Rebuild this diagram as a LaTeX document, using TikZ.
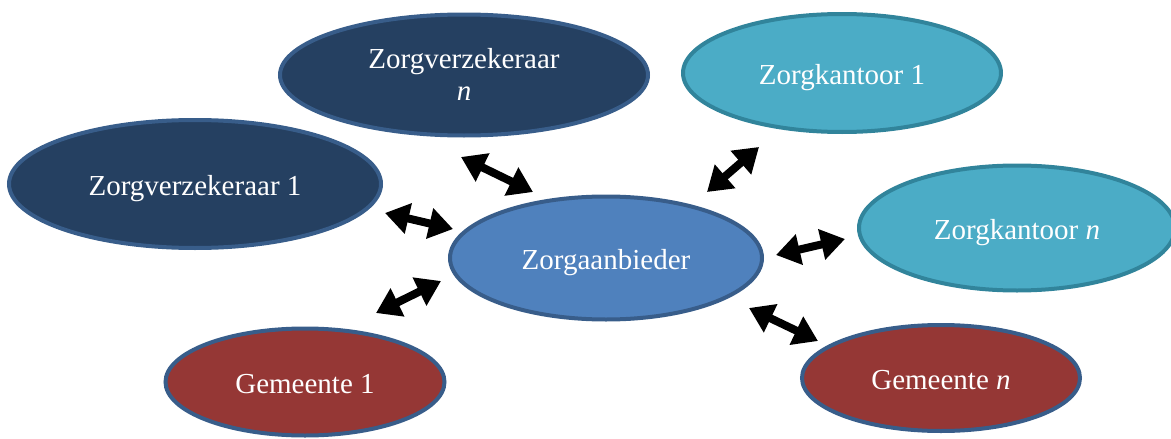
\documentclass[tikz,border=0pt]{standalone}
\usepackage{fontspec}
\setmainfont{Liberation Serif}
\usetikzlibrary{arrows.meta,shapes.geometric}

\definecolor{navy}{HTML}{254061}
\definecolor{randblauw}{HTML}{385D8A}
\definecolor{middenblauw}{HTML}{4F81BD}
\definecolor{turkoois}{HTML}{4BACC6}
\definecolor{randturkoois}{HTML}{31849B}
\definecolor{donkerrood}{HTML}{953735}

\tikzset{
  partij/.style={ellipse, inner sep=0pt, line width=4pt, text=white,
    font=\fontsize{29}{32}\selectfont, align=center,
    text height=22pt, text depth=0pt},
  verzekeraar/.style={partij, fill=navy, draw=randblauw},
  aanbieder/.style={partij, fill=middenblauw, draw=randblauw},
  kantoor/.style={partij, fill=turkoois, draw=randturkoois},
  gemeente/.style={partij, fill=donkerrood, draw=randblauw},
  pijl/.style={line width=8pt, {Triangle[length=24pt,width=30pt]}-{Triangle[length=24pt,width=30pt]}}
}

\begin{document}
\begin{tikzpicture}[x=1pt,y=-1pt]
\useasboundingbox (0,0) rectangle (1171,439);
\clip (0,0) rectangle (1171,439);

% de partijen
\node[verzekeraar, minimum width=368pt, minimum height=121pt, text height=50pt, text depth=0pt] (zvn) at (464,75) {Zorgverzekeraar\\ \textit{n}};
\node[kantoor, minimum width=318pt, minimum height=118pt] (zk1) at (842,73) {Zorgkantoor 1};
\node[verzekeraar, minimum width=372pt, minimum height=128pt] (zv1) at (195,184) {Zorgverzekeraar 1};
\node[aanbieder, minimum width=312pt, minimum height=123pt] (za) at (606,258) {Zorgaanbieder};
\node[kantoor, minimum width=316pt, minimum height=125pt] (zkn) at (1017,228) {Zorgkantoor \textit{n}};
\node[gemeente, minimum width=279pt, minimum height=107pt] (g1) at (305,382) {Gemeente 1};
\node[gemeente, minimum width=278pt, minimum height=106pt] (gn) at (941,378) {Gemeente \textit{n}};

% eindpunten van de pijlen
\coordinate (zvn-a) at (461,157);  \coordinate (zvn-b) at (533,192);
\coordinate (zv1-a) at (385,213);  \coordinate (zv1-b) at (453,229);
\coordinate (g1-a)  at (376,313);  \coordinate (g1-b)  at (441,281);
\coordinate (zk1-a) at (759,147);  \coordinate (zk1-b) at (707,192);
\coordinate (zkn-a) at (776,255);  \coordinate (zkn-b) at (845,239);
\coordinate (gn-a)  at (749,308);  \coordinate (gn-b)  at (818,341);

\foreach \p in {zvn,zv1,g1,zk1,zkn,gn} {
  \draw[pijl] (\p-a) -- (\p-b);
}
\end{tikzpicture}
\end{document}
